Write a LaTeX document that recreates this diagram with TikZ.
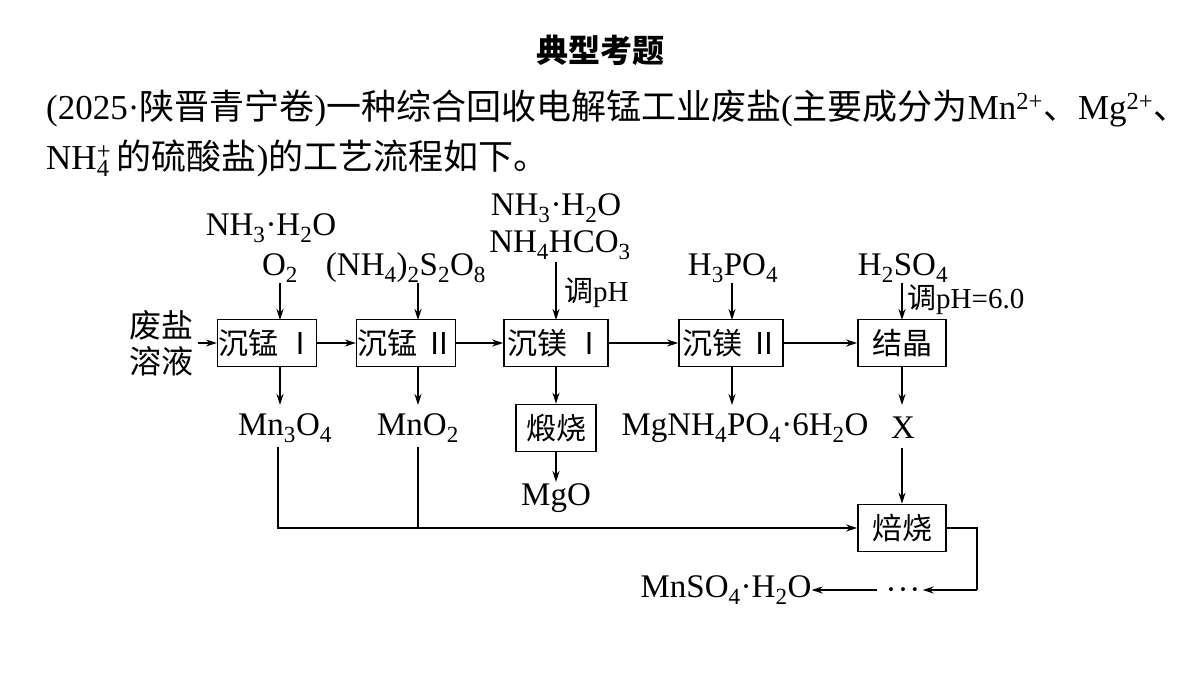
\documentclass[tikz,border=0pt]{standalone}
\usepackage{fontspec}
\setmainfont{Liberation Serif}
\newfontfamily\cjk{Noto Sans CJK SC}
\newcommand{\zh}[1]{{\cjk #1}}
\newcommand{\sbs}[1]{\textsubscript{#1}}
\usetikzlibrary{arrows.meta}
\begin{document}
\begin{tikzpicture}[x=1pt,y=-1pt,
  box/.style={draw,line width=1.6pt,minimum height=47pt,inner sep=1pt,font=\fontsize{30}{32}\selectfont\cjk},
  lab/.style={font=\fontsize{33}{35}\selectfont,inner sep=0pt},
  ar/.style={line width=1.6pt,-{Stealth[length=11pt,width=7pt]}},
  ln/.style={line width=1.6pt}]
\useasboundingbox (0,0) rectangle (1200,675);
\node[font=\fontsize{32}{34}\selectfont\cjk\bfseries] (title) at (600,50) {典型考题};
\node[anchor=west,inner sep=0pt,font=\fontsize{35}{37}\selectfont] (l1) at (46,108) {(2025·\zh{陕晋青宁卷})\zh{一种综合回收电解锰工业废盐}(\zh{主要成分为}Mn\textsuperscript{2+}\zh{、}Mg\textsuperscript{2+}\zh{、}};
\node[anchor=west,inner sep=0pt,font=\fontsize{35}{37}\selectfont] (l2) at (46,158) {NH\rlap{\sbs{4}}\textsuperscript{+}\,\zh{的硫酸盐})\zh{的工艺流程如下。}};
% boxes
\node[box,minimum width=81pt] (m1) at (267,343) {沉锰 Ⅰ};
\node[box,minimum width=80pt] (m2) at (406,343) {沉锰 Ⅱ};
\node[box,minimum width=104pt] (g1) at (556,343) {沉镁 Ⅰ};
\node[box,minimum width=104pt] (g2) at (731,343) {沉镁 Ⅱ};
\node[box,minimum width=88pt] (jj) at (902,343) {结晶};
\node[box,minimum width=80pt] (ds) at (556,428) {煅烧};
\node[box,minimum width=88pt] (bs) at (902,528) {焙烧};
% labels
\node[lab,align=center,font=\fontsize{32}{36}\selectfont\cjk] (fy) at (161,343) {废盐\\溶液};
\node[lab] (i1a) at (271,228) {NH\sbs{3}·H\sbs{2}O};
\node[lab] (i1b) at (280,268) {O\sbs{2}};
\node[lab] (i2) at (406,268) {(NH\sbs{4})\sbs{2}S\sbs{2}O\sbs{8}};
\node[lab] (i3a) at (556,208) {NH\sbs{3}·H\sbs{2}O};
\node[lab] (i3b) at (560,245) {NH\sbs{4}HCO\sbs{3}};
\node[lab,anchor=west,font=\fontsize{29}{31}\selectfont] (i3c) at (564,293) {\zh{调}pH};
\node[lab] (i4) at (733,268) {H\sbs{3}PO\sbs{4}};
\node[lab] (i5) at (903,268) {H\sbs{2}SO\sbs{4}};
\node[lab,anchor=west,font=\fontsize{29}{31}\selectfont] (i5c) at (907,300) {\zh{调}pH=6.0};
\node[lab] (o1) at (285,428) {Mn\sbs{3}O\sbs{4}};
\node[lab] (o2) at (418,428) {MnO\sbs{2}};
\node[lab] (o3) at (556,498) {MgO};
\node[lab] (o4) at (745,428) {MgNH\sbs{4}PO\sbs{4}·6H\sbs{2}O};
\node[lab] (x) at (903,428) {X};
\node[lab,inner xsep=2pt] (dots) at (903,594) {·\kern1pt·\kern1pt·};
\node[lab] (prod) at (726,590) {MnSO\sbs{4}·H\sbs{2}O};
\coordinate (j1) at (278,528);
\coordinate (j2) at (418,528);
\coordinate (c1) at (977,528);
\coordinate (c2) at (977,590);
% connectors
\draw[ar] (fy.east) ++(5,0) -- (m1.west);
\draw[ar] (m1) -- (m2);
\draw[ar] (m2) -- (g1);
\draw[ar] (g1) -- (g2);
\draw[ar] (g2) -- (jj);
\draw[ar] (280,283) -- (280,320);
\draw[ar] (418,283) -- (418,320);
\draw[ar] (556,262) -- (556,320);
\draw[ar] (732,283) -- (732,320);
\draw[ar] (902,283) -- (902,320);
\draw[ar] (280,367) -- (280,405);
\draw[ar] (418,367) -- (418,405);
\draw[ar] (556,367) -- (ds.north);
\draw[ar] (556,452) -- (556,482);
\draw[ar] (732,367) -- (732,405);
\draw[ar] (902,367) -- (902,405);
\draw[ar] (902,448) -- (bs.north);
\draw[ln] (278,447) -- (j1) -- (j2);
\draw[ln] (418,447) -- (j2);
\draw[ar] (j2) -- (bs.west);
\draw[ln] (bs.east) -- (c1) -- (c2);
\draw[ar] (c2) -- (dots.east |- c2);
\draw[ar] (dots.west |- c2) ++(-6,0) -- (prod.east |- c2);
\end{tikzpicture}
\end{document}
